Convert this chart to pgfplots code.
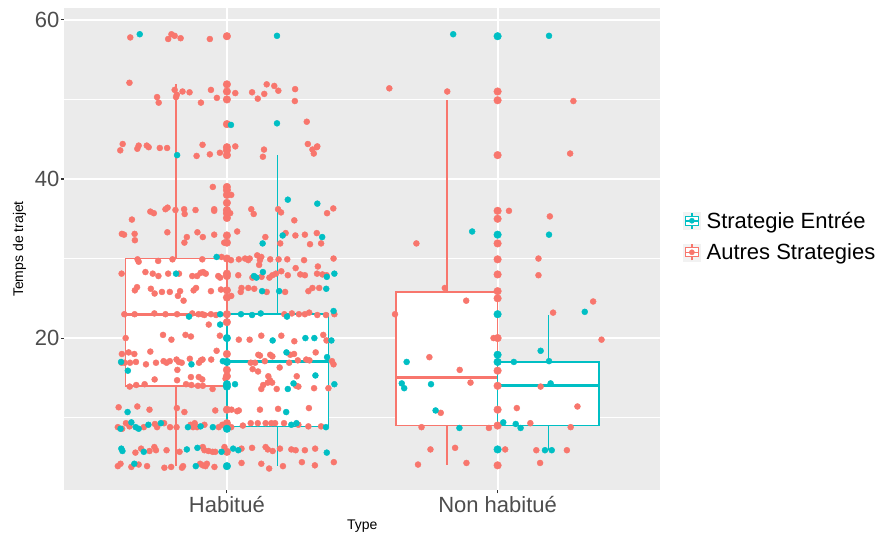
\documentclass[border=0pt]{standalone}
\usepackage{pgfplots}
\pgfplotsset{compat=1.18}
\usepackage{pgfplotstable}
\usepgfplotslibrary{statistics}
\usepackage{fontspec}
\setmainfont{Liberation Sans}
\definecolor{cred}{HTML}{F8766D}
\definecolor{cteal}{HTML}{00BFC4}
\definecolor{panelbg}{HTML}{EBEBEB}
\definecolor{tickgrey}{HTML}{4D4D4D}
\definecolor{tickmark}{HTML}{333333}
\definecolor{keybg}{HTML}{F2F2F2}

% Autres Strategies, jittered points
\pgfplotstableread{
x y
0.643 57.8
0.795 58.2
0.807 58.0
0.783 57.6
0.829 57.7
0.937 57.6
0.640 52.1
1.147 51.9
1.175 51.7
1.190 51.1
1.252 51.3
0.807 51.2
0.836 51.0
0.862 50.9
0.941 51.2
1.031 50.8
1.093 50.9
1.138 50.7
0.815 50.6
0.812 50.3
0.742 50.3
0.748 49.6
0.904 49.6
0.963 50.2
1.114 50.1
1.251 49.8
1.295 47.2
0.615 44.4
0.606 43.6
0.674 44.2
0.669 43.8
0.704 44.2
0.711 44.0
0.752 43.9
0.779 43.9
0.888 42.9
0.910 44.3
0.937 43.1
0.974 43.3
1.031 44.1
1.137 43.7
1.133 42.8
1.299 44.4
1.316 43.7
1.332 44.0
1.321 43.2
1.334 44.1
0.948 39.0
1.016 38.0
1.012 35.7
0.953 36.2
0.953 36.0
0.884 36.1
0.842 36.2
0.844 35.6
0.810 36.1
0.773 36.2
0.781 36.4
0.717 35.9
0.730 35.7
0.649 34.9
1.090 36.2
1.099 35.6
1.189 36.2
1.200 35.8
1.249 34.8
1.370 35.7
1.393 36.3
0.612 33.1
0.620 33.0
0.659 33.1
0.660 32.3
0.780 33.3
0.891 33.3
0.911 32.7
0.852 32.7
0.843 32.0
0.953 33.0
0.990 32.0
1.038 33.4
1.142 32.7
1.217 33.2
1.253 32.9
1.288 33.0
1.332 33.2
1.348 31.9
1.307 31.8
1.197 31.9
0.670 29.9
0.674 29.6
0.746 29.7
0.799 29.9
0.909 29.9
0.980 30.2
1.015 29.8
1.044 29.9
1.067 30.0
1.079 29.8
1.084 30.0
1.112 30.4
1.127 30.2
1.122 29.8
1.160 29.9
1.191 29.9
1.223 29.9
1.285 29.8
1.336 29.0
1.394 30.0
1.119 29.2
1.254 28.8
0.611 28.1
0.699 28.3
0.726 28.1
0.747 27.8
0.783 28.1
0.823 28.1
0.872 27.8
0.890 27.8
0.903 28.2
0.912 28.3
0.922 28.1
0.968 27.8
0.975 27.6
1.042 27.9
1.094 27.6
1.128 27.7
1.157 27.6
1.168 27.9
1.181 28.1
1.201 28.4
1.225 27.9
1.271 28.0
1.288 27.9
1.333 28.1
1.353 28.0
1.368 27.9
0.668 26.4
0.660 26.0
0.719 26.2
0.733 25.6
0.760 25.8
0.789 25.8
0.827 25.9
0.819 25.3
0.840 24.7
0.877 26.0
0.886 26.3
0.941 25.9
0.978 26.1
1.016 25.3
1.054 26.3
1.051 25.8
1.079 26.3
1.101 26.2
1.147 25.8
1.215 25.8
1.301 25.9
1.316 26.3
1.341 26.3
0.621 23.0
0.659 23.0
0.732 23.1
0.773 23.0
0.816 23.0
0.872 23.1
0.895 23.0
0.909 23.0
0.917 22.9
0.941 23.0
0.960 22.9
0.933 21.7
1.212 23.0
1.240 23.1
1.266 23.0
1.288 23.0
1.304 23.2
1.334 22.9
1.366 22.9
1.397 23.0
0.626 20.0
0.764 20.4
0.795 19.8
0.847 20.4
0.867 20.2
0.974 20.3
1.044 19.8
1.084 19.8
1.127 20.3
1.201 20.3
1.249 19.6
1.356 20.4
1.368 19.7
0.612 18.0
0.637 18.2
0.658 18.0
0.717 18.3
0.611 16.9
0.622 16.9
0.642 16.9
0.664 17.0
0.701 16.7
0.738 16.9
0.766 17.1
0.777 16.9
0.789 17.1
0.814 17.3
0.822 17.0
0.833 16.9
0.817 16.0
0.863 17.4
0.897 16.9
0.904 17.2
0.910 17.3
0.942 17.3
0.962 18.4
1.088 16.9
1.104 16.9
1.116 17.9
1.122 17.8
1.095 16.1
1.115 15.8
1.160 17.9
1.168 17.7
1.140 17.1
1.234 17.9
1.248 18.0
1.230 16.9
1.262 17.2
1.293 17.3
1.305 17.2
1.328 18.2
1.388 17.1
1.394 16.7
1.195 16.3
1.153 15.2
1.159 14.7
1.151 14.4
1.167 14.4
1.134 14.1
1.127 13.6
1.184 13.6
1.258 15.2
1.256 14.0
1.264 13.9
1.322 13.7
1.375 13.7
0.995 14.9
0.641 13.9
0.665 14.1
0.696 14.2
0.733 14.8
0.816 14.7
0.849 14.2
0.867 15.1
0.869 14.1
0.896 15.1
0.909 14.8
0.893 14.0
0.911 14.0
0.947 13.6
0.600 11.3
0.669 11.4
0.714 11.0
0.815 11.2
0.843 10.7
0.957 10.9
1.017 11.0
1.038 10.8
1.044 10.9
1.122 11.0
1.189 11.1
1.303 11.2
0.597 8.8
0.613 8.6
0.627 9.3
0.640 8.9
0.693 8.8
0.734 9.2
0.742 8.8
0.768 9.3
0.790 8.8
0.814 8.8
0.866 9.1
0.875 8.8
0.881 9.3
0.890 8.8
0.917 9.1
0.970 8.8
0.983 9.1
1.016 8.8
1.088 9.3
1.114 9.3
1.059 9.0
1.143 9.3
1.164 9.3
1.178 9.3
1.211 9.3
1.264 9.1
1.301 8.9
1.348 8.9
0.662 5.6
0.683 6.1
0.714 5.8
0.732 6.3
0.738 5.9
0.777 5.9
0.825 5.7
0.911 6.3
0.917 5.9
0.932 5.8
0.947 5.7
0.957 5.7
0.991 6.3
1.054 6.1
1.093 6.2
1.143 6.3
1.151 6.0
1.169 5.8
1.196 6.1
1.238 6.0
1.254 5.9
1.288 5.9
1.326 6.1
0.597 3.9
0.607 4.2
0.647 3.8
0.674 4.1
0.705 3.9
0.769 3.7
0.794 3.8
0.834 3.7
0.838 3.9
0.901 4.2
0.911 4.0
0.921 3.9
0.926 4.2
0.954 3.8
1.054 4.3
1.127 4.2
1.156 3.6
1.207 3.9
1.277 4.4
1.325 4.0
1.395 4.4
1.600 51.4
1.814 51.0
2.280 49.8
2.268 43.2
2.042 36.0
2.193 35.3
1.700 31.9
2.151 30.0
2.151 27.9
1.805 26.3
1.884 24.7
2.353 24.6
1.621 23.0
2.205 23.2
2.384 19.8
1.985 20.0
1.748 17.6
1.860 16.0
1.900 14.4
2.159 13.9
2.295 11.4
1.790 10.6
2.071 11.2
2.121 9.3
1.719 8.8
1.968 8.7
2.270 8.8
1.752 6.0
1.843 6.2
2.028 6.0
2.143 5.9
2.256 5.9
1.706 4.1
1.885 4.3
2.157 4.3
}\redjit

% Autres Strategies, points on the category line
\pgfplotstableread{
x y
1 57.95
1 51.9
1 51.0
1 50.0
1 46.9
1 44.0
1 43.6
1 43.0
1 39.0
1 38.6
1 38.0
1 37.0
1 36.1
1 35.7
1 35.1
1 32.9
1 32.0
1 30.0
1 28.1
1 27.8
1 26.0
1 25.1
1 23.0
1 22.0
1 18.0
1 16.0
1 15.2
1 11.0
1 9.3
1 8.9
1 5.7
2 51.0
2 49.9
2 43.0
2 36.0
2 35.0
2 31.9
2 29.9
2 28.0
2 25.9
2 25.0
2 20.0
2 15.9
2 14.0
2 11.0
2 9.0
2 4.0
}\redctr

% Strategie Entree, jittered points
\pgfplotstableread{
x y
0.678 58.2
1.185 58.0
1.015 46.8
1.185 47.0
0.816 43.0
1.225 37.4
1.334 36.9
1.132 31.9
1.206 32.9
1.352 32.7
0.962 30.2
0.812 28.1
1.100 27.8
1.109 27.6
1.133 28.3
1.369 27.7
1.397 28.1
1.130 25.9
1.193 25.9
1.367 26.2
0.860 22.7
0.975 23.0
1.052 23.0
1.093 22.9
1.125 23.1
0.975 21.7
1.222 22.7
1.394 23.4
1.169 19.7
1.290 20.0
1.323 20.0
1.386 19.7
0.609 17.0
0.634 15.9
0.869 16.7
0.985 17.1
1.220 18.2
1.370 17.6
1.327 15.3
1.246 14.3
1.225 13.6
1.397 14.2
1.030 14.2
0.633 10.7
1.219 10.7
0.607 8.6
0.647 9.4
0.663 8.8
0.674 8.6
0.710 9.1
0.756 9.3
0.856 8.8
0.903 8.9
0.948 8.8
1.238 9.1
1.257 9.3
1.366 8.8
0.610 6.1
0.614 5.8
0.693 5.7
0.852 6.0
0.891 6.2
0.980 5.7
1.023 6.1
1.042 5.9
1.369 5.6
0.658 4.2
0.885 3.9
1.836 58.2
2.190 58.0
1.906 33.4
2.190 33.0
2.322 23.3
2.159 18.4
1.664 17.0
2.060 17.0
2.190 17.1
1.646 14.3
1.655 13.7
1.754 14.2
2.196 14.3
1.771 10.9
2.021 9.4
2.067 9.2
2.085 8.7
1.859 8.7
2.175 5.9
2.200 5.9
}\tealjit

% Strategie Entree, points on the category line
\pgfplotstableread{
x y
1 20.0
1 17.0
1 14.2
1 13.9
1 8.6
1 3.9
2 57.95
2 33.0
2 23.0
2 17.9
2 17.0
2 6.0
}\tealctr

\begin{document}
\begin{tikzpicture}
\useasboundingbox (-64.5pt,-44pt) rectangle (817.5pt,490pt);
\begin{axis}[
  at={(0pt,0pt)}, anchor=south west,
  scale only axis, width=595.5pt, height=482pt,
  xmin=0.4, xmax=2.6, ymin=0.9, ymax=61.5,
  xtick={1,2}, xticklabels={Habitué,Non habitué},
  ytick={20,40,60}, minor ytick={10,30,50},
  xtick pos=bottom, ytick pos=left,
  axis line style={draw=none},
  axis background/.style={fill=panelbg},
  grid=both,
  major grid style={white, line width=2pt},
  minor grid style={white, line width=1.2pt},
  tick align=outside,
  major tick length=3.5pt, minor tick length=0pt,
  tick style={draw=tickmark, line width=1.1pt},
  minor tick style={draw=none},
  /pgf/number format/assume math mode=true,
  ticklabel style={font=\fontsize{22}{26}\selectfont, text=tickgrey},
  yticklabel style={inner sep=1.5pt},
  xticklabel style={inner sep=0pt, yshift=-3pt},
  xlabel={Type}, ylabel={Temps de trajet},
  label style={font=\fontsize{14}{16}\selectfont, text=black},
  xlabel style={at={(axis description cs:0.5,-0.0747)}, anchor=center},
  ylabel style={at={(axis description cs:-0.0756,0.5)}, anchor=center, rotate=0},
  boxplot/draw direction=y,
  boxplot/box extend=0.375,
  boxplot/whisker extend=0,
  boxplot/every median/.style={line width=3pt},
  legend style={at={(axis description cs:1,0.526)}, anchor=west, xshift=23pt,
    draw=none, fill=none, inner sep=0pt, row sep=10pt,
    font=\fontsize{22}{26}\selectfont,
    nodes={inner sep=2pt},
    /tikz/every odd column/.append style={column sep=4pt}},
  legend cell align=left,
]
\addlegendimage{legend image code/.code={
  \fill[keybg] (0pt,-8.5pt) rectangle (17pt,8.5pt);
  \draw[cteal,line width=1.2pt] (8.5pt,-8pt)--(8.5pt,8pt);
  \filldraw[fill=white,draw=cteal,line width=1.2pt] (1.7pt,-4.5pt) rectangle (15.3pt,4.5pt);
  \draw[cteal,line width=1.6pt] (1.7pt,0pt)--(15.3pt,0pt);
  \fill[cteal] (8.5pt,0pt) circle (2.6pt);
}}
\addlegendentry{Strategie Entrée}
\addlegendimage{legend image code/.code={
  \fill[keybg] (0pt,-8.5pt) rectangle (17pt,8.5pt);
  \draw[cred,line width=1.2pt] (8.5pt,-8pt)--(8.5pt,8pt);
  \filldraw[fill=white,draw=cred,line width=1.2pt] (1.7pt,-4.5pt) rectangle (15.3pt,4.5pt);
  \draw[cred,line width=1.6pt] (1.7pt,0pt)--(15.3pt,0pt);
  \fill[cred] (8.5pt,0pt) circle (2.6pt);
}}
\addlegendentry{Autres Strategies}

\addplot[forget plot, draw=cred, fill=white, line width=1.6pt,
  boxplot prepared={draw position=0.8125, lower whisker=3.9, lower quartile=14.0,
    median=23.0, upper quartile=30.0, upper whisker=51.9}] coordinates {};
\addplot[forget plot, draw=cteal, fill=white, line width=1.6pt,
  boxplot prepared={draw position=1.1875, lower whisker=3.9, lower quartile=8.9,
    median=17.0, upper quartile=23.0, upper whisker=43.0}] coordinates {};
\addplot[forget plot, draw=cred, fill=white, line width=1.6pt,
  boxplot prepared={draw position=1.8125, lower whisker=4.0, lower quartile=9.0,
    median=15.0, upper quartile=25.8, upper whisker=49.9}] coordinates {};
\addplot[forget plot, draw=cteal, fill=white, line width=1.6pt,
  boxplot prepared={draw position=2.1875, lower whisker=5.9, lower quartile=9.0,
    median=14.0, upper quartile=17.0, upper whisker=22.9}] coordinates {};

\addplot[forget plot, only marks, mark=*, mark size=3pt, color=cred,
  mark options={draw=none, fill=cred}] table[x=x,y=y] {\redjit};
\addplot[forget plot, only marks, mark=*, mark size=3.8pt, color=cred,
  mark options={draw=none, fill=cred}] table[x=x,y=y] {\redctr};
\addplot[forget plot, only marks, mark=*, mark size=3pt, color=cteal,
  mark options={draw=none, fill=cteal}] table[x=x,y=y] {\tealjit};
\addplot[forget plot, only marks, mark=*, mark size=3.8pt, color=cteal,
  mark options={draw=none, fill=cteal}] table[x=x,y=y] {\tealctr};
\end{axis}
\end{tikzpicture}
\end{document}
